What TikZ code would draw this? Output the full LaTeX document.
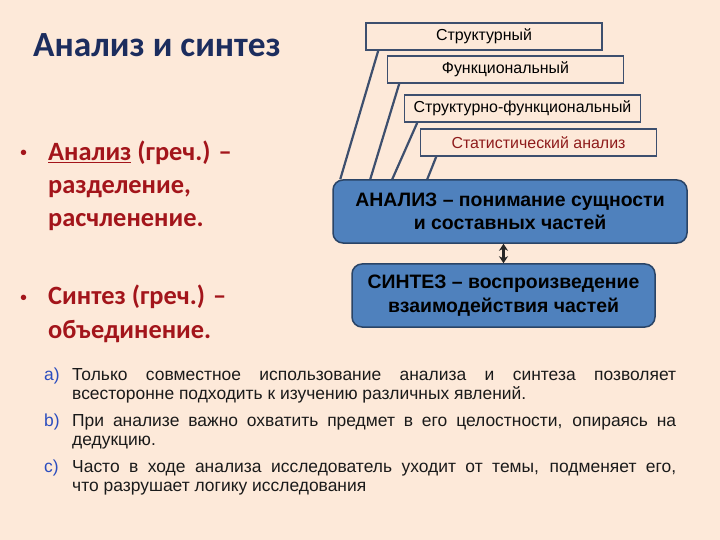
\documentclass[tikz,border=0pt]{standalone}
\usepackage{fontspec}
\setmainfont{Liberation Sans}
\newfontfamily\calibri{Carlito}
\usetikzlibrary{calc,arrows.meta}

\definecolor{slidebg}{HTML}{FDE9D9}
\definecolor{titleblue}{HTML}{1C2D5E}
\definecolor{darkred}{HTML}{A3151B}
\definecolor{statred}{HTML}{8E1B1B}
\definecolor{boxline}{HTML}{3D4F6E}
\definecolor{boxblue}{HTML}{4F81BD}
\definecolor{blueline}{HTML}{2A4466}
\definecolor{itemblue}{HTML}{2B4DBF}
\definecolor{itemtext}{HTML}{1A1A1A}

\begin{document}
\begin{tikzpicture}[x=1bp,y=-1bp]
\tikzset{typebox/.style = {draw=boxline, line width=1.6bp, fill=slidebg, minimum width=236bp, minimum height=27bp, inner sep=0pt, font=\fontsize{16}{18}\selectfont}}
\tikzset{bluebox/.style = {draw=blueline, line width=1.5bp, fill=boxblue, rounded corners=10bp, align=center, inner sep=0pt, minimum height=63bp, font=\bfseries\fontsize{19.5}{23.5}\selectfont}}
\tikzset{redtext/.style = {anchor=base west, inner sep=0pt, align=left, text=darkred, font=\calibri\bfseries\fontsize{26.5}{33.5}\selectfont}}
\tikzset{redbullet/.style = {anchor=base west, inner sep=0pt, text=darkred, font=\fontsize{20}{20}\selectfont}}
\tikzset{itemlabel/.style = {anchor=base west, inner sep=0pt, text=itemblue, font=\fontsize{17.5}{19.5}\selectfont}}
\tikzset{itembody/.style = {anchor=base west, inner sep=0pt, text width=604bp, align=justify, text=itemtext, font=\fontsize{17.5}{19.5}\selectfont}}
\tikzset{link/.style = {draw=boxline, line width=2.2bp}}

\fill[slidebg] (0,0) rectangle (720,540);

\node[anchor=base west, inner sep=0pt, text=titleblue, font=\calibri\bfseries\fontsize{35.5}{40}\selectfont] (title) at (33,57) {Анализ и синтез};

% types of analysis
\node[typebox] (struct) at (484,36.5) {Структурный};
\node[typebox] (func) at (505.5,69.5) {Функциональный};
\node[typebox] (strfunc) at (522.5,108.5) {Структурно-функциональный};
\node[typebox, text=statred] (stat) at (538.5,142.5) {Статистический анализ};

\node[bluebox, minimum width=354bp] (analiz) at (510,211.5) {АНАЛИЗ – понимание сущности\\и составных частей};
\node[bluebox, minimum width=303bp] (sintez) at (503.5,295.5) {СИНТЕЗ – воспроизведение\\взаимодействия частей};

\draw[link] ($(struct.south west)+(13,0)$) -- ($(analiz.north west)+(8,0)$);
\draw[link] ($(func.south west)+(12.5,0)$) -- ($(analiz.north west)+(38,0)$);
\draw[link] ($(strfunc.south west)+(13.5,0)$) -- ($(analiz.north west)+(60,0)$);
\draw[link] ($(stat.south west)+(16.5,0)$) -- ($(analiz.north west)+(95,0)$);

\draw[{Stealth[length=7bp,width=9bp]}-{Stealth[length=7bp,width=9bp]}, line width=2.4bp, black!85] (sintez.north |- analiz.south) -- (sintez.north);

% definitions
\node[redbullet] (bul1) at (20,160) {•};
\node[redtext] (def1) at (48,227) {\underline{Анализ} (греч.) –\\разделение,\\расчленение.};
\node[redbullet] (bul2) at (20,304.5) {•};
\node[redtext] (def2) at (48,338) {Синтез (греч.) –\\объединение.};

% notes
\node[itemlabel] (la) at (44,380.5) {a)};
\node[itembody] (ta) at (72,380.5) {Только совместное использование анализа и синтеза позволяет всесторонне подходить к изучению различных явлений.};
\node[itemlabel] (lb) at (44,426.5) {b)};
\node[itembody] (tb) at (72,426.5) {При анализе важно охватить предмет в его целостности, опираясь на дедукцию.};
\node[itemlabel] (lc) at (44,472.5) {c)};
\node[itembody] (tc) at (72,472.5) {Часто в ходе анализа исследователь уходит от темы, подменяет его,\linebreak что разрушает логику исследования};
\end{tikzpicture}
\end{document}
